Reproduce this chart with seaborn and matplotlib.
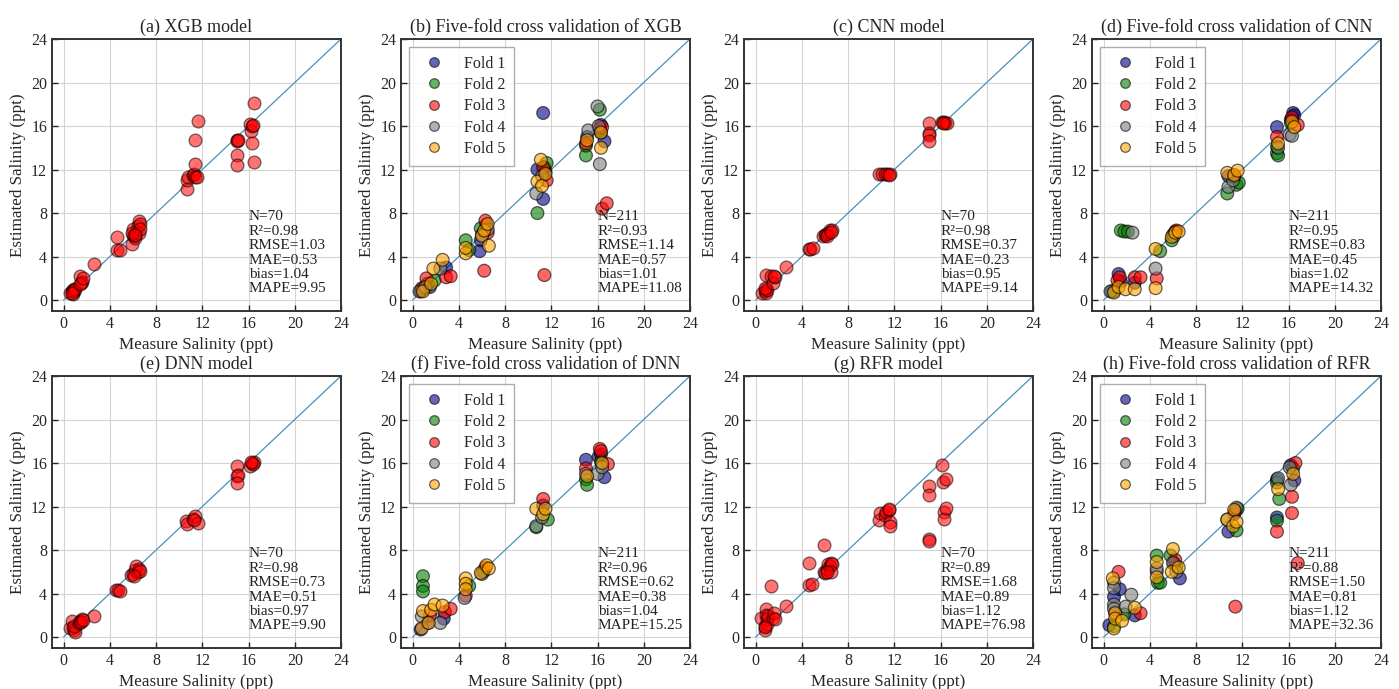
import pandas as pd
import matplotlib
matplotlib.use("Agg")
import matplotlib.pyplot as plt
import seaborn as sns

# ----------------------
# Data
# ----------------------
# single-model panels: measured vs estimated salinity (ppt)
xgb_meas = [0.6, 0.7, 0.8, 0.9, 0.8, 0.9, 1.0, 0.7, 1.4, 1.5, 1.6, 1.4, 1.7, 2.6,
            4.6, 4.6, 4.9, 5.9, 6.0, 6.0, 6.1, 6.2, 6.3, 6.4, 6.5, 6.5, 6.6, 6.6, 5.9, 6.2,
            10.7, 10.7, 10.8, 11.2, 11.3, 11.4, 11.5, 11.4, 11.4, 11.6,
            15.0, 15.0, 15.1, 15.0, 15.0, 16.1, 16.2, 16.3, 16.4, 16.3, 16.5, 16.5]
xgb_est = [0.7, 0.8, 0.9, 1.0, 0.6, 0.8, 1.0, 0.7, 2.2, 1.6, 1.7, 1.5, 2.0, 3.3,
           5.8, 4.6, 4.6, 5.2, 6.0, 6.5, 5.9, 5.7, 6.3, 6.8, 7.3, 6.2, 7.0, 6.5, 6.2, 6.0,
           10.2, 11.0, 11.3, 11.5, 11.6, 11.3, 11.3, 12.5, 14.7, 16.5,
           14.7, 14.6, 14.7, 13.3, 12.4, 16.2, 15.5, 16.0, 16.1, 14.4, 12.7, 18.1]

cnn_meas = [0.6, 0.8, 0.9, 0.9, 1.0, 0.8, 0.9, 1.3, 1.5, 1.7, 1.6, 2.6,
            4.6, 4.7, 5.0, 5.8, 6.0, 6.1, 6.3, 6.4, 6.6, 6.2, 6.5,
            10.7, 10.9, 11.2, 11.4, 11.6, 11.5, 15.0, 15.0, 15.0, 15.0,
            16.1, 16.3, 16.4, 16.6, 16.2]
cnn_est = [0.7, 0.8, 1.0, 0.7, 0.9, 1.1, 2.3, 2.2, 1.6, 2.1, 2.2, 3.0,
           4.7, 4.7, 4.8, 5.9, 6.0, 6.1, 6.2, 6.4, 6.4, 5.9, 6.3,
           11.6, 11.6, 11.6, 11.6, 11.6, 11.5, 16.3, 15.4, 15.2, 14.6,
           16.4, 16.4, 16.3, 16.3, 16.3]

dnn_meas = [0.6, 0.7, 0.8, 0.9, 1.0, 0.9, 1.3, 1.4, 1.6, 1.5, 1.7, 2.6,
            4.5, 4.7, 4.9, 5.8, 6.0, 6.2, 6.3, 6.4, 6.5, 6.6, 6.1,
            10.6, 10.7, 11.2, 11.4, 11.6, 11.3, 15.0, 15.0, 15.1, 15.0,
            16.1, 16.3, 16.5, 16.4, 16.2]
dnn_est = [0.8, 1.5, 0.8, 0.7, 0.5, 1.0, 1.3, 1.5, 1.7, 1.4, 1.6, 1.9,
           4.3, 4.3, 4.2, 5.7, 5.8, 6.2, 6.5, 6.0, 6.3, 6.1, 5.6,
           10.7, 10.4, 10.9, 11.1, 10.5, 10.8, 15.7, 14.8, 14.9, 14.2,
           15.7, 16.0, 16.1, 15.9, 16.1]

rfr_meas = [0.5, 0.8, 0.8, 0.9, 0.9, 1.0, 1.0, 1.1, 1.3, 1.5, 1.6, 1.7, 0.8, 2.6,
            4.6, 4.6, 4.9, 5.9, 5.9, 6.0, 6.2, 6.3, 6.4, 6.5, 6.6, 6.5, 6.2,
            10.7, 10.8, 11.2, 11.3, 11.5, 11.5, 11.6, 11.6,
            15.0, 15.0, 15.0, 15.0, 16.1, 16.2, 16.3, 16.3, 16.5, 16.5]
rfr_est = [1.8, 0.7, 1.0, 2.6, 2.0, 1.7, 1.2, 1.9, 4.7, 1.8, 2.2, 1.7, 0.9, 2.9,
           6.8, 4.8, 4.9, 8.5, 6.0, 5.9, 6.3, 6.7, 6.5, 6.8, 6.7, 6.0, 6.0,
           10.8, 11.4, 11.2, 11.5, 11.7, 11.8, 10.6, 10.2,
           13.9, 13.1, 9.0, 8.8, 15.8, 14.3, 11.5, 10.9, 14.5, 11.9]

# five-fold cross validation panels: one (measured, estimated) pair of lists per fold
fold_names = ["Fold 1", "Fold 2", "Fold 3", "Fold 4", "Fold 5"]

xgb_cv_meas = [
    [0.7, 1.0, 1.5, 2.9, 5.8, 5.9, 6.2, 10.8, 11.3, 11.3, 11.5, 15.1, 16.3, 16.6, 16.2],
    [0.8, 1.3, 1.9, 4.6, 4.9, 5.9, 6.4, 10.8, 11.4, 11.6, 15.0, 15.0, 16.2, 16.3],
    [0.8, 1.2, 2.9, 3.3, 6.2, 6.3, 6.5, 11.4, 11.3, 11.6, 15.0, 16.2, 16.4, 16.4, 16.8],
    [0.6, 1.1, 2.4, 6.0, 6.5, 10.7, 11.2, 15.2, 16.0, 16.2, 16.1],
    [0.9, 1.8, 1.6, 2.6, 4.6, 4.6, 6.0, 6.2, 6.6, 6.5, 10.8, 11.1, 11.2, 11.5, 15.1, 16.3, 16.3],
]
xgb_cv_est = [
    [0.8, 1.1, 1.2, 3.0, 4.5, 5.5, 6.3, 12.0, 9.3, 17.2, 11.8, 15.0, 16.1, 14.6, 15.6],
    [0.9, 1.5, 1.8, 5.5, 4.6, 6.6, 6.9, 8.0, 12.2, 12.6, 13.3, 14.2, 17.5, 15.4],
    [1.1, 2.0, 2.1, 2.2, 2.7, 7.3, 6.2, 2.3, 12.2, 11.0, 14.4, 15.8, 15.9, 8.4, 8.9],
    [0.8, 1.2, 2.9, 6.0, 6.5, 9.8, 11.4, 15.6, 17.8, 12.5, 16.0],
    [0.8, 2.9, 1.5, 3.7, 4.3, 4.8, 5.9, 6.4, 5.0, 7.0, 10.9, 12.9, 10.5, 11.6, 14.7, 14.0, 15.4],
]

cnn_cv_meas = [
    [0.7, 1.3, 1.5, 2.7, 6.0, 6.2, 10.8, 11.3, 15.0, 16.2, 16.4, 16.5],
    [0.9, 1.5, 1.8, 2.1, 4.9, 5.9, 10.7, 11.5, 11.7, 15.0, 15.1, 15.0, 16.2],
    [1.2, 1.4, 2.7, 3.2, 4.6, 6.3, 11.3, 15.0, 16.3, 16.8],
    [0.6, 2.5, 4.5, 6.1, 10.8, 11.2, 15.1, 16.1, 16.3],
    [0.9, 1.3, 1.9, 2.7, 4.5, 4.5, 5.9, 6.2, 6.5, 10.7, 11.3, 11.6, 15.1, 16.3, 16.5],
]
cnn_cv_est = [
    [0.8, 2.4, 1.7, 1.6, 6.0, 6.3, 11.4, 11.3, 15.9, 16.6, 17.2, 17.0],
    [0.8, 6.4, 6.3, 6.3, 4.5, 5.5, 9.8, 10.6, 10.8, 13.5, 13.3, 14.1, 16.3],
    [1.8, 2.1, 2.1, 2.1, 2.0, 6.4, 11.4, 15.0, 16.8, 16.1],
    [0.8, 6.2, 2.9, 5.9, 10.4, 11.0, 14.0, 15.2, 15.1],
    [0.7, 1.2, 1.0, 1.0, 4.7, 1.1, 5.8, 6.2, 6.3, 11.7, 11.5, 11.9, 14.4, 16.4, 15.9],
]

dnn_cv_meas = [
    [0.7, 1.3, 2.7, 6.1, 11.3, 15.0, 16.1, 16.6, 16.3],
    [0.9, 0.9, 0.9, 4.9, 6.2, 10.7, 11.7, 15.0, 15.1, 16.3],
    [1.5, 2.8, 3.3, 4.6, 6.3, 11.3, 15.0, 16.2, 16.3, 16.9],
    [0.8, 2.4, 4.5, 6.0, 10.7, 11.2, 15.0, 16.0, 16.4],
    [0.8, 0.9, 1.6, 1.9, 2.6, 1.4, 4.6, 4.6, 4.6, 5.9, 6.4, 6.6, 10.7, 11.3, 11.5, 15.1, 16.4],
]
dnn_cv_est = [
    [0.7, 1.3, 1.7, 6.0, 12.1, 16.3, 16.6, 14.7, 16.8],
    [5.6, 4.7, 4.2, 4.7, 6.1, 10.1, 10.8, 14.5, 14.0, 16.1],
    [2.0, 2.3, 2.6, 3.8, 6.4, 12.7, 15.5, 17.3, 17.1, 15.9],
    [1.9, 1.3, 3.6, 5.8, 10.2, 11.0, 15.0, 15.0, 15.6],
    [0.8, 2.4, 2.5, 3.0, 2.9, 1.3, 5.4, 4.9, 4.4, 5.9, 6.6, 6.3, 11.8, 11.3, 11.8, 14.8, 16.0],
]

rfr_cv_meas = [
    [0.5, 1.4, 0.9, 2.7, 6.1, 6.6, 10.8, 11.3, 15.0, 15.0, 16.2, 16.5],
    [0.9, 1.8, 4.6, 4.7, 4.9, 5.8, 6.3, 11.5, 11.6, 15.0, 15.2, 15.0, 16.4],
    [1.3, 1.0, 3.2, 6.2, 11.4, 11.4, 15.0, 16.3, 16.3, 16.8, 16.6],
    [0.9, 0.9, 0.9, 0.9, 2.4, 1.9, 4.6, 4.6, 6.0, 6.3, 10.7, 11.5, 15.1, 16.2, 16.1],
    [0.8, 0.9, 1.0, 1.0, 1.6, 2.7, 4.6, 4.6, 5.9, 6.0, 6.5, 10.7, 11.2, 11.3, 11.5, 15.1, 16.4],
]
rfr_cv_est = [
    [1.1, 4.4, 3.7, 2.0, 6.8, 5.4, 9.7, 11.3, 11.0, 14.5, 15.8, 14.4],
    [1.0, 2.1, 7.5, 5.0, 5.0, 7.5, 6.5, 9.8, 11.8, 10.7, 12.7, 14.2, 15.5],
    [6.0, 2.3, 2.2, 7.1, 2.8, 11.6, 9.7, 12.9, 11.4, 6.8, 16.0],
    [5.0, 4.5, 3.0, 2.6, 3.9, 2.8, 6.0, 6.3, 6.8, 6.0, 10.8, 11.9, 14.6, 14.0, 15.6],
    [5.4, 0.8, 2.2, 1.7, 1.5, 2.7, 6.9, 5.5, 6.0, 8.1, 6.4, 10.8, 10.2, 11.7, 10.6, 13.6, 15.0],
]

titles = ["(a) XGB model", "(b) Five-fold cross validation of XGB",
          "(c) CNN model", "(d) Five-fold cross validation of CNN",
          "(e) DNN model", "(f) Five-fold cross validation of DNN",
          "(g) RFR model", "(h) Five-fold cross validation of RFR"]

stats = [
    ["N=70", "R²=0.98", "RMSE=1.03", "MAE=0.53", "bias=1.04", "MAPE=9.95"],
    ["N=211", "R²=0.93", "RMSE=1.14", "MAE=0.57", "bias=1.01", "MAPE=11.08"],
    ["N=70", "R²=0.98", "RMSE=0.37", "MAE=0.23", "bias=0.95", "MAPE=9.14"],
    ["N=211", "R²=0.95", "RMSE=0.83", "MAE=0.45", "bias=1.02", "MAPE=14.32"],
    ["N=70", "R²=0.98", "RMSE=0.73", "MAE=0.51", "bias=0.97", "MAPE=9.90"],
    ["N=211", "R²=0.96", "RMSE=0.62", "MAE=0.38", "bias=1.04", "MAPE=15.25"],
    ["N=70", "R²=0.89", "RMSE=1.68", "MAE=0.89", "bias=1.12", "MAPE=76.98"],
    ["N=211", "R²=0.88", "RMSE=1.50", "MAE=0.81", "bias=1.12", "MAPE=32.36"],
]

ticks = [0, 4, 8, 12, 16, 20, 24]
fold_colors = ["darkblue", "green", "red", "gray", "orange"]


def single_df(meas, est):
    return pd.DataFrame({"meas": meas, "est": est})


def fold_df(meas_lists, est_lists):
    rows = []
    for name, ms, es in zip(fold_names, meas_lists, est_lists):
        for m, e in zip(ms, es):
            rows.append({"meas": m, "est": e, "fold": name})
    return pd.DataFrame(rows)


def style_axes(ax, title, stat_lines):
    ax.plot([0, 24], [0, 24], color="#4a90b8", lw=0.9, zorder=1)
    ax.set_xlim(-1, 24)
    ax.set_ylim(-1, 24)
    ax.set_xticks(ticks)
    ax.set_yticks(ticks)
    ax.grid(True, color="#d4d4d4", lw=0.8, zorder=0)
    ax.set_axisbelow(True)
    ax.tick_params(direction="in", labelsize=11.5, length=4, width=1)
    for sp in ax.spines.values():
        sp.set_color("#333333")
        sp.set_linewidth(1.4)
    ax.set_xlabel("Measure Salinity (ppt)", fontsize=12.3)
    ax.set_ylabel("Estimated Salinity (ppt)", fontsize=12.3)
    ax.set_title(title, fontsize=13, pad=5)
    ax.text(0.68, 0.37, "\n".join(stat_lines), transform=ax.transAxes,
            fontsize=11, va="top", ha="left", linespacing=1.14, color="#222222", zorder=5)


# ----------------------
# Figure
# ----------------------
sns.set_style("ticks")
plt.rcParams["font.family"] = ["Liberation Serif", "DejaVu Serif"]

fig = plt.figure(figsize=(13.99, 6.89), dpi=100)

col_left = [52, 401, 744, 1092]
row_top = [39, 376]
W, H = 289, 272

panels = [
    ("single", (xgb_meas, xgb_est)),
    ("fold", (xgb_cv_meas, xgb_cv_est)),
    ("single", (cnn_meas, cnn_est)),
    ("fold", (cnn_cv_meas, cnn_cv_est)),
    ("single", (dnn_meas, dnn_est)),
    ("fold", (dnn_cv_meas, dnn_cv_est)),
    ("single", (rfr_meas, rfr_est)),
    ("fold", (rfr_cv_meas, rfr_cv_est)),
]

for i, (kind, data) in enumerate(panels):
    r, c = divmod(i, 4)
    ax = fig.add_axes([col_left[c] / 1399, 1 - (row_top[r] + H) / 689, W / 1399, H / 689])
    if kind == "single":
        df = single_df(*data)
        sns.scatterplot(data=df, x="meas", y="est", ax=ax, color="red", alpha=0.55,
                        s=85, edgecolor="black", linewidth=0.9, zorder=3)
    else:
        df = fold_df(*data)
        sns.scatterplot(data=df, x="meas", y="est", hue="fold", hue_order=fold_names,
                        palette=fold_colors, ax=ax, alpha=0.6, s=85,
                        edgecolor="black", linewidth=0.9, zorder=3)
        leg = ax.legend(loc="upper left", fontsize=11.5, handletextpad=0.9,
                        borderpad=0.55, labelspacing=0.33, frameon=True, fancybox=False,
                        markerscale=0.75, handlelength=2.0)
        leg.get_frame().set_edgecolor("#999999")
        leg.get_frame().set_linewidth(1.0)
    style_axes(ax, titles[i], stats[i])

fig.savefig("out.png", dpi=100)
